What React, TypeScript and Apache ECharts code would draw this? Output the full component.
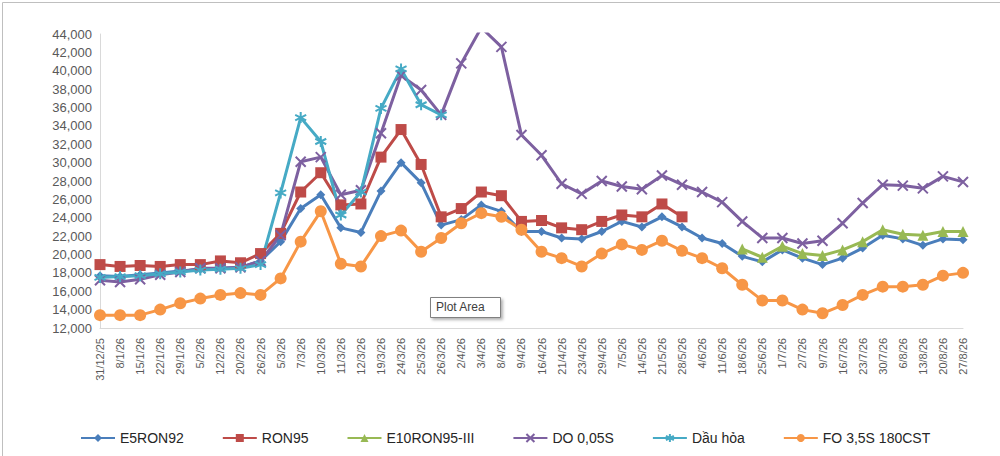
import React, { useEffect, useRef } from "react";
import * as echarts from "echarts";

const categories = ["31/12/25","8/1/26","15/1/26","22/1/26","29/1/26","5/2/26","12/2/26","20/2/26","26/2/26","5/3/26","7/3/26","10/3/26","11/3/26","12/3/26","19/3/26","24/3/26","25/3/26","26/3/26","2/4/26","3/4/26","8/4/26","9/4/26","16/4/26","21/4/26","23/4/26","29/4/26","7/5/26","14/5/26","21/5/26","28/5/26","4/6/26","11/6/26","18/6/26","25/6/26","1/7/26","2/7/26","9/7/26","16/7/26","23/7/26","30/7/26","6/8/26","13/8/26","20/8/26","27/8/26"];

const e5ron92 = [17700,17600,17800,18000,18200,18400,18500,18600,19300,21400,25000,26500,22900,22400,26900,30000,27800,23200,23800,25400,24700,22500,22500,21800,21700,22500,23600,23000,24100,23000,21800,21200,19800,19200,20500,19600,18900,19600,20700,22100,21700,21000,21700,21600];
const ron95 = [18900,18700,18800,18700,18900,18900,19300,19100,20100,22300,26800,28900,25400,25500,30600,33600,29800,24100,25000,26800,26400,23600,23700,22900,22700,23600,24300,24100,25500,24100,null,null,null,null,null,null,null,null,null,null,null,null,null,null];
const e10ron95 = [null,null,null,null,null,null,null,null,null,null,null,null,null,null,null,null,null,null,null,null,null,null,null,null,null,null,null,null,null,null,null,null,20600,19700,20900,20100,19900,20500,21400,22700,22200,22100,22500,22500];
const do005s = [17200,17000,17300,17800,18100,18500,18500,18600,19300,22100,30100,30600,26500,27000,33200,39500,37900,35200,40800,44700,42600,33000,30800,27700,26600,28000,27400,27100,28600,27600,26800,25700,23600,21800,21800,21200,21500,23400,25600,27600,27500,27200,28500,27900];
const dauHoa = [17500,17600,17700,17900,18100,18300,18400,18500,18900,26700,34900,32300,24300,26800,35900,40200,36300,35200,null,null,null,null,null,null,null,null,null,null,null,null,null,null,null,null,null,null,null,null,null,null,null,null,null,null];
const fo = [13400,13400,13400,14000,14700,15200,15600,15800,15600,17400,21400,24700,19000,18700,22000,22600,20300,21800,23400,24500,24100,22700,20300,19600,18700,20100,21100,20500,21500,20400,19600,18500,16700,15000,15000,14000,13600,14500,15600,16500,16500,16700,17700,18000];

const X_SYM = "path://M0,0L10,10M10,0L0,10";
const STAR_SYM = "path://M5,0L5,10M0,2.5L10,7.5M0,7.5L10,2.5";

export default function App() {
  const ref = useRef<HTMLDivElement>(null);
  useEffect(() => {
    const chart = echarts.init(ref.current!, null, { renderer: "svg" });
    const mk = (name: string, data: any[], color: string, symbol: string, size: number, stroke = false) => ({
      name, type: "line", data, symbol, symbolSize: size, connectNulls: false,
      lineStyle: { color, width: 3 },
      itemStyle: stroke ? { color: "transparent", borderColor: color, borderWidth: 2 } : { color, borderColor: color, borderWidth: 0 },
      color,
    });
    chart.setOption({
      animation: false,
      textStyle: { fontFamily: "Liberation Sans, Arial, sans-serif" },
      grid: { left: 100, right: 37, top: 34, bottom: 128 },
      xAxis: {
        type: "category", data: categories, boundaryGap: false,
        axisLine: { lineStyle: { color: "#d9d9d9" } }, axisTick: { show: false },
        axisLabel: { rotate: 90, interval: 0, color: "#595959", fontSize: 11, margin: 10 },
      },
      yAxis: {
        type: "value", min: 12000, max: 44000, interval: 2000,
        axisLine: { show: true, lineStyle: { color: "#d9d9d9" } }, splitLine: { show: false },
        axisLabel: { color: "#595959", fontSize: 13, formatter: (v: number) => v.toLocaleString("en-US") },
      },
      legend: {
        top: 426, left: 75, width: 920, itemGap: 38, itemWidth: 34, itemHeight: 10,
        textStyle: { color: "#262626", fontSize: 14 },
      },
      series: [
        mk("E5RON92", e5ron92, "#4A7EBB", "diamond", 9),
        mk("RON95", ron95, "#BE4B48", "rect", 11),
        mk("E10RON95-III", e10ron95, "#98B954", "triangle", 11),
        mk("DO 0,05S", do005s, "#7D60A0", X_SYM, 10, true),
        mk("Dầu hỏa", dauHoa, "#46AAC5", STAR_SYM, 11, true),
        mk("FO 3,5S 180CST", fo, "#F79646", "circle", 12),
      ],
      graphic: [
        { type: "rect", left: 0, top: 0, shape: { width: 998, height: 454 }, style: { fill: "none", stroke: "#bfbfbf", lineWidth: 1 } },
        { type: "rect", left: 430, top: 297, shape: { width: 70, height: 20 }, style: { fill: "#fff", stroke: "#808080", lineWidth: 1, shadowBlur: 3, shadowColor: "rgba(0,0,0,0.3)", shadowOffsetX: 2, shadowOffsetY: 2 } },
        { type: "text", left: 436, top: 301, style: { text: "Plot Area", fill: "#404040", fontSize: 12, fontFamily: "Liberation Sans, Arial, sans-serif" } },
      ],
    });
    return () => chart.dispose();
  }, []);
  return <div ref={ref} style={{ width: 1000, height: 456, position: "absolute", left: 0, top: 0, background: "#fff" }} />;
}
